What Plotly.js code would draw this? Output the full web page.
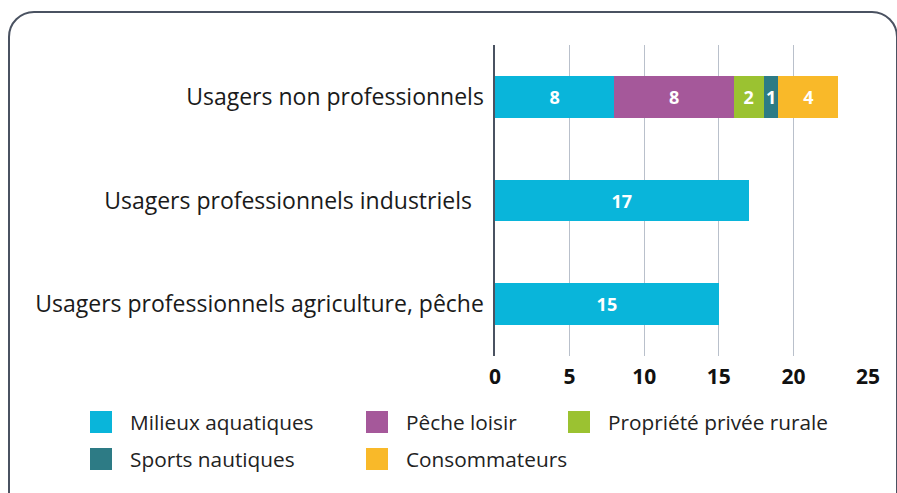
<!DOCTYPE html>
<html>
<head>
<meta charset="utf-8">
<script src="https://cdn.plot.ly/plotly-3.0.1.min.js"></script>
<style>
  html, body { margin: 0; padding: 0; background: #fff; overflow: hidden; }
  #frame {
    position: absolute; left: 8px; top: 11px; width: 890px; height: 520px;
    border: 2.5px solid #4a5261; border-radius: 26px; box-sizing: border-box;
  }
  #chart { position: absolute; left: 0; top: 0; width: 897px; height: 493px; }
</style>
</head>
<body>
<div id="frame"></div>
<div id="chart"></div>
<script>
// categories, bottom to top as Plotly draws them
const categories = [
    'Usagers professionnels agriculture, pêche',
    'Usagers professionnels industriels\u00a0\u00a0',
    'Usagers non professionnels'
];

const seriesNames = ['Milieux aquatiques', 'Pêche loisir', 'Propriété privée rurale',
                     'Sports nautiques', 'Consommateurs'];
const seriesColors = ['#09b5da', '#a5589a', '#9bc231', '#2d7b85', '#f9b929'];

// values per series, same order as categories
const milieuxAquatiques = [15, 17, 8];
const pecheLoisir       = [null, null, 8];
const proprieteRurale   = [null, null, 2];
const sportsNautiques   = [null, null, 1];
const consommateurs     = [null, null, 4];

const seriesValues = [milieuxAquatiques, pecheLoisir, proprieteRurale, sportsNautiques, consommateurs];
const xTicks = [0, 5, 10, 15, 20, 25];

const FONT = '"Open Sans", sans-serif';

const traces = seriesNames.map((name, i) => ({
    type: 'bar',
    orientation: 'h',
    name,
    y: categories,
    x: seriesValues[i],
    marker: { color: seriesColors[i], line: { width: 0 } },
    text: seriesValues[i].map(v => v == null ? '' : String(v)),
    textposition: 'inside',
    insidetextanchor: 'middle',
    textangle: 0,
    constraintext: 'none',
    textfont: { family: FONT, size: 18, color: '#ffffff', weight: 700 },
    hoverinfo: 'skip',
    showlegend: false
}));

// plot area in pixels, used to place the hand-made legend
const M = { l: 495, r: 29, t: 45, b: 137 };
const W = 897, H = 493;
const pw = W - M.l - M.r, ph = H - M.t - M.b;
const px = x => (x - M.l) / pw;
const py = y => (H - M.b - y) / ph;

// legend layout: [column x, row center y]
const legendPos = [[90, 422], [366, 422], [568, 422], [90, 459], [366, 459]];
const shapes = [], annotations = [];
seriesNames.forEach((name, i) => {
    const [lx, ly] = legendPos[i];
    shapes.push({
        type: 'rect', xref: 'paper', yref: 'paper',
        x0: px(lx), x1: px(lx + 22), y0: py(ly + 11), y1: py(ly - 11),
        fillcolor: seriesColors[i], line: { width: 0 }
    });
    annotations.push({
        xref: 'paper', yref: 'paper', x: px(lx + 38), y: py(ly),
        xanchor: 'left', yanchor: 'middle', showarrow: false,
        text: name, font: { family: FONT, size: 20.8, color: '#222' }
    });
});

const layout = {
    width: W, height: H,
    margin: M,
    paper_bgcolor: 'rgba(0,0,0,0)',
    plot_bgcolor: 'rgba(0,0,0,0)',
    barmode: 'stack',
    bargap: 0.6,
    showlegend: false,
    font: { family: FONT, color: '#1a1a1a' },
    xaxis: {
        range: [0, 25], tickvals: xTicks, ticktext: xTicks.map(String),
        showgrid: true, gridcolor: '#b9c0cb', gridwidth: 1.3,
        zeroline: false, showline: false, ticks: '',
        ticklabelstandoff: 6,
        tickfont: { family: FONT, size: 21, color: '#111', weight: 700 },
        fixedrange: true
    },
    yaxis: {
        showgrid: false, zeroline: false, ticks: '',
        showline: true, linecolor: '#4a5261', linewidth: 2.5,
        ticklabelstandoff: 4,
        tickfont: { family: FONT, size: 23, color: '#1a1a1a' },
        fixedrange: true
    },
    shapes, annotations
};

Plotly.newPlot('chart', traces, layout, { displayModeBar: false, staticPlot: true });
</script>
</body>
</html>
